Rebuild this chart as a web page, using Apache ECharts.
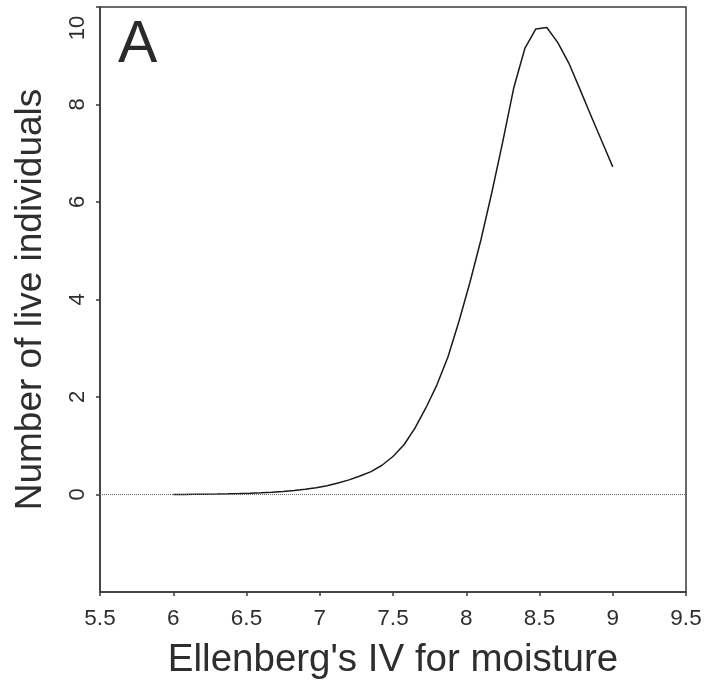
<!DOCTYPE html>
<html>
<head>
<meta charset="utf-8">
<script src="https://cdn.jsdelivr.net/npm/echarts@6/dist/echarts.min.js"></script>
<style>
html,body{margin:0;padding:0;background:#fff;}
#chart{width:706px;height:685px;}
</style>
</head>
<body>
<div id="chart"></div>
<script>
const panelLabel = 'A';
const xAxisTitle = "Ellenberg's IV for moisture";
const yAxisTitle = 'Number of live individuals';

const moisture = [6, 6.075, 6.15, 6.225, 6.3, 6.375, 6.45, 6.525, 6.6, 6.675,
  6.75, 6.825, 6.9, 6.975, 7.05, 7.125, 7.2, 7.275, 7.35, 7.425,
  7.5, 7.575, 7.65, 7.725, 7.8, 7.875, 7.95, 8.025, 8.1, 8.175,
  8.25, 8.325, 8.4, 8.475, 8.55, 8.625, 8.7, 8.775, 8.85, 8.925, 9];
const liveIndividuals = [0, 0.002, 0.004, 0.006, 0.009, 0.013, 0.018, 0.025, 0.034, 0.046,
  0.062, 0.083, 0.11, 0.14, 0.18, 0.235, 0.30, 0.38, 0.47, 0.60,
  0.78, 1.02, 1.36, 1.78, 2.25, 2.82, 3.55, 4.35, 5.22, 6.20,
  7.25, 8.35, 9.15, 9.55, 9.58, 9.27, 8.85, 8.32, 7.78, 7.25, 6.72];

const xTicks = [5.5, 6, 6.5, 7, 7.5, 8, 8.5, 9, 9.5];
const yTicks = [-2, 0, 2, 4, 6, 8, 10];

const FONT = '"Liberation Sans", Arial, sans-serif';
const TXT = '#2e2e2e';
const AX = '#3a3a3a';

const chart = echarts.init(document.getElementById('chart'), null, {renderer: 'canvas'});
chart.setOption({
  backgroundColor: '#fff',
  animation: false,
  title: {
    text: panelLabel,
    left: 113,
    top: 11,
    textStyle: {fontFamily: FONT, fontSize: 59, fontWeight: 'normal', color: '#2a2a2a'}
  },
  grid: {
    left: 100, right: 20, top: 7, bottom: 93,
    containLabel: false,
    outerBoundsMode: 'none',
    show: true, borderColor: AX, borderWidth: 1.5, backgroundColor: 'transparent'
  },
  xAxis: {
    type: 'value',
    min: xTicks[0], max: xTicks[xTicks.length - 1], interval: 0.5,
    name: xAxisTitle,
    nameLocation: 'middle',
    nameGap: 49,
    nameTextStyle: {fontFamily: FONT, fontSize: 38.5, color: TXT},
    axisLine: {show: true, onZero: false, lineStyle: {color: AX, width: 1.5}},
    axisTick: {show: true, inside: false, length: 4, lineStyle: {color: AX, width: 1.5}},
    axisLabel: {fontFamily: FONT, fontSize: 22.5, color: TXT, margin: 15},
    splitLine: {show: false}
  },
  yAxis: {
    type: 'value',
    min: yTicks[0], max: yTicks[yTicks.length - 1], interval: 2,
    name: yAxisTitle,
    nameLocation: 'middle',
    nameGap: 51,
    nameTextStyle: {fontFamily: FONT, fontSize: 37, color: TXT},
    axisLine: {show: true, onZero: false, lineStyle: {color: AX, width: 1.5}},
    axisTick: {show: true, inside: false, length: 4, lineStyle: {color: AX, width: 1.5}},
    axisLabel: {
      fontFamily: FONT, fontSize: 22, color: TXT, margin: 11, rotate: 90,
      showMinLabel: false,
      formatter: function (v) { return v === 10 ? '{t|10}' : String(v); },
      rich: {t: {fontFamily: FONT, fontSize: 22, color: TXT, padding: [0, 42, 0, 0]}}
    },
    splitLine: {show: false}
  },
  series: [{
    type: 'line',
    data: moisture.map((x, i) => [x, liveIndividuals[i]]),
    showSymbol: false,
    symbol: 'none',
    smooth: false,
    lineStyle: {color: '#1a1a1a', width: 1.5},
    markLine: {
      silent: true,
      symbol: ['none', 'none'],
      label: {show: false},
      lineStyle: {type: [1, 1], color: '#666', width: 1},
      data: [{yAxis: 0}]
    },
    z: 3
  }]
});
</script>
</body>
</html>
